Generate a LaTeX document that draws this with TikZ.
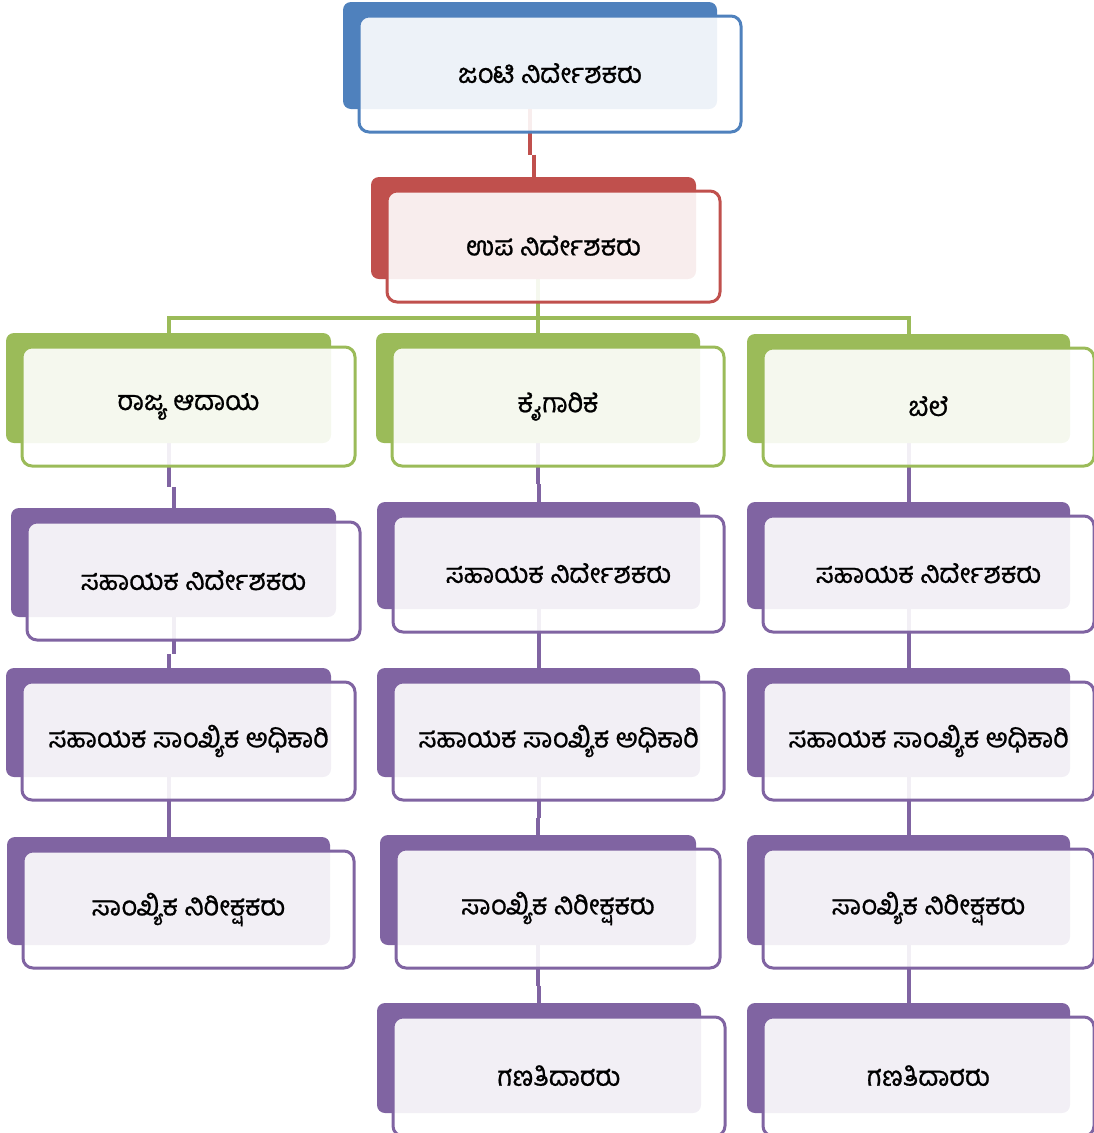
\documentclass[tikz,border=0pt]{standalone}
\usepackage{fontspec}
\newfontfamily\knfont[Script=Kannada, FakeBold=0.8]{Hind Mysuru}
\usetikzlibrary{calc}
\pgfdeclarelayer{background}
\pgfsetlayers{background,main}
\definecolor{cblue}{HTML}{4F81BD}
\definecolor{cred}{HTML}{C0504D}
\definecolor{cgreen}{HTML}{9BBB59}
\definecolor{cpurple}{HTML}{8064A2}
\tikzset{
  backbox/.style={rectangle, rounded corners=8pt, inner sep=0pt, outer sep=0pt, draw=none},
  frontbox/.style={rectangle, rounded corners=10pt, inner sep=0pt, outer sep=0pt, line width=3pt, fill=white, fill opacity=0.9, text opacity=1, font=\knfont\fontsize{27}{31}\selectfont, text=black},
  conn/.style={line width=4pt},
}
% #1 name, #2 colour, #3 x1, #4 y1, #5 x2, #6 y2 (back box), #7 text
\newcommand\elembox[7]{%
  \node[backbox, fill=#2, minimum width=#5pt-#3pt, minimum height=#6pt-#4pt] (#1b) at ({(#3+#5)/2},{(#4+#6)/2}) {};
  \node[frontbox, draw=#2, minimum width=#5pt-#3pt+8pt, minimum height=#6pt-#4pt+9pt] (#1) at ({(#3+#5)/2+20},{(#4+#6)/2+18.5}) {\raisebox{2pt}{#7}};
}
\newcommand\jog[3]{% parent, child, colour
  \coordinate (#1#2m) at ($(#1.south)!0.5!(#2b.north)$);
  \draw[conn, #3] (#1b.center) -- (#1b.center |- #1#2m);
  \draw[conn, #3] (#2b.north |- #1#2m) -- (#2b.north);
}
\begin{document}
\begin{tikzpicture}[x=1pt, y=-1pt]
\useasboundingbox (0,0) rectangle (1094,1133);
\elembox{top}{cblue}{343}{2}{717}{109}{ಜಂಟಿ ನಿರ್ದೇಶಕರು}
\elembox{dep}{cred}{371}{177}{696}{279}{ಉಪ ನಿರ್ದೇಶಕರು}
% green row
\elembox{ga}{cgreen}{6}{333}{331}{443}{ರಾಜ್ಯ ಆದಾಯ}
\elembox{gb}{cgreen}{376}{333}{700}{443}{ಕೈಗಾರಿಕೆ}
\elembox{gc}{cgreen}{747}{334}{1070}{443}{ಬೆಲೆ}
% left column
\elembox{a1}{cpurple}{11}{508}{336}{617}{ಸಹಾಯಕ ನಿರ್ದೇಶಕರು}
\elembox{a2}{cpurple}{6}{668}{331}{777}{ಸಹಾಯಕ ಸಾಂಖ್ಯಿಕ ಅಧಿಕಾರಿ}
\elembox{a3}{cpurple}{7}{837}{330}{945}{ಸಾಂಖ್ಯಿಕ ನಿರೀಕ್ಷಕರು}
% middle column
\elembox{b1}{cpurple}{377}{502}{700}{609}{ಸಹಾಯಕ ನಿರ್ದೇಶಕರು}
\elembox{b2}{cpurple}{377}{668}{700}{777}{ಸಹಾಯಕ ಸಾಂಖ್ಯಿಕ ಅಧಿಕಾರಿ}
\elembox{b3}{cpurple}{380}{835}{696}{945}{ಸಾಂಖ್ಯಿಕ ನಿರೀಕ್ಷಕರು}
\elembox{b4}{cpurple}{377}{1003}{701}{1113}{ಗಣತಿದಾರರು}
% right column
\elembox{c1}{cpurple}{747}{502}{1070}{609}{ಸಹಾಯಕ ನಿರ್ದೇಶಕರು}
\elembox{c2}{cpurple}{747}{668}{1070}{777}{ಸಹಾಯಕ ಸಾಂಖ್ಯಿಕ ಅಧಿಕಾರಿ}
\elembox{c3}{cpurple}{747}{835}{1070}{945}{ಸಾಂಖ್ಯಿಕ ನಿರೀಕ್ಷಕರು}
\elembox{c4}{cpurple}{747}{1003}{1070}{1113}{ಗಣತಿದಾರರು}
\begin{pgfonlayer}{background}
  \jog{top}{dep}{cred}
  \coordinate (bus) at (538,318);
  \draw[conn, cgreen] (depb.center -| gbb.north) -- (gbb.north);
  \draw[conn, cgreen] (gab.north) |- (bus) -| (gcb.north);
  \jog{ga}{a1}{cpurple}
  \jog{a1}{a2}{cpurple}
  \jog{a2}{a3}{cpurple}
  \jog{gb}{b1}{cpurple}
  \jog{b1}{b2}{cpurple}
  \jog{b2}{b3}{cpurple}
  \jog{b3}{b4}{cpurple}
  \jog{gc}{c1}{cpurple}
  \jog{c1}{c2}{cpurple}
  \jog{c2}{c3}{cpurple}
  \jog{c3}{c4}{cpurple}
\end{pgfonlayer}
\end{tikzpicture}
\end{document}
